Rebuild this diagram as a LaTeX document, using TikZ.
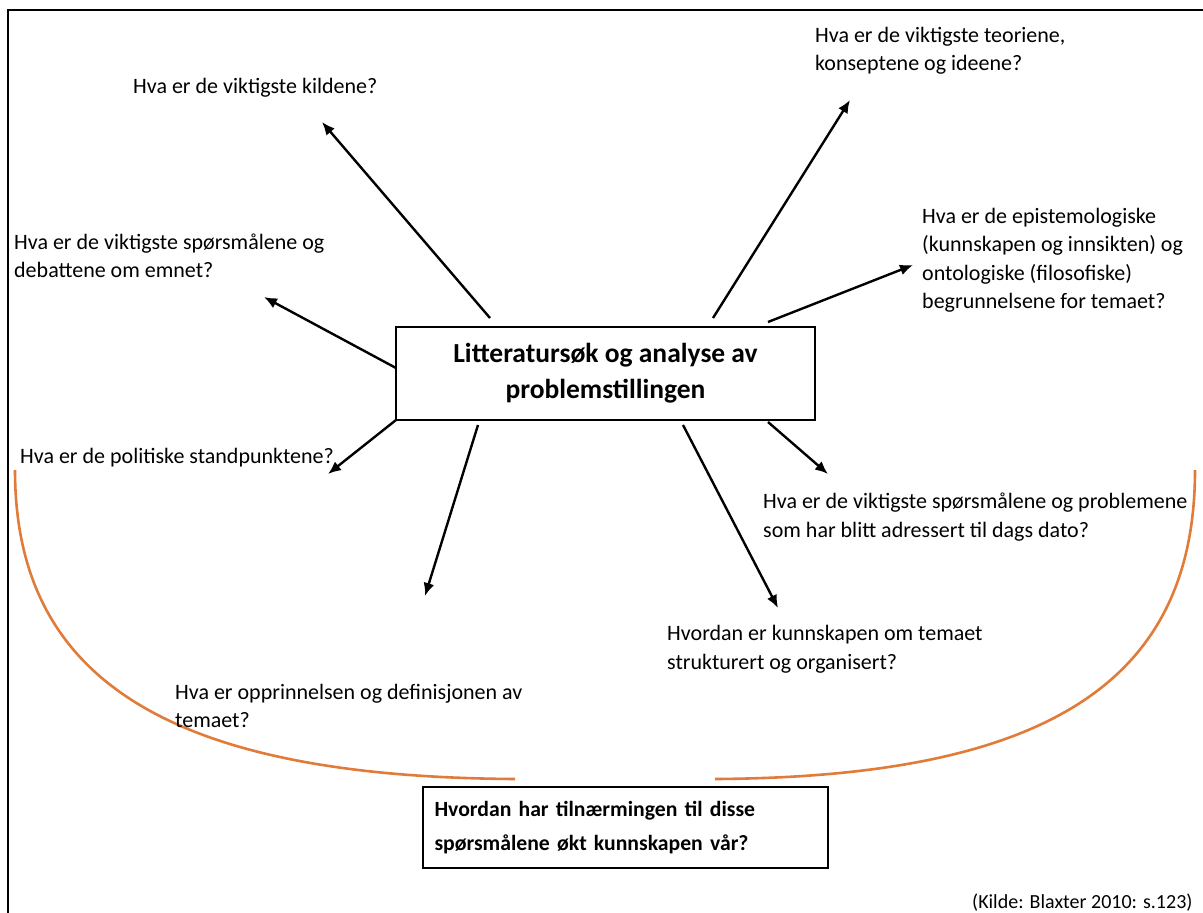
\documentclass[tikz,border=0pt]{standalone}
\usepackage{fontspec}
\setmainfont{Carlito}
\usetikzlibrary{arrows.meta}
\definecolor{arcorange}{HTML}{E07B39}
\begin{document}
\begin{tikzpicture}[x=1pt,y=-1pt,
  qtext/.style={anchor=west,align=left,inner sep=0pt,font=\fontsize{22}{28.5}\selectfont},
  conn/.style={line width=2.4pt,-{Latex[length=13pt,width=11pt]}},
  framebox/.style={draw,line width=1.6pt,fill=white},
  arcline/.style={draw=arcorange,line width=2.6pt}]
\useasboundingbox (0,0) rectangle (1203,913);
% outer frame
\coordinate (fbl) at (8,913);
\coordinate (ftl) at (8,10);
\coordinate (ftr) at (1203,10);
\draw[line width=1.8pt] (fbl) -- (ftl) -- (ftr);
% orange arcs
\coordinate (la) at (15,470);
\coordinate (lb) at (515,779);
\coordinate (ra) at (715,779);
\coordinate (rb) at (1195,470);
\draw[arcline] (la) .. controls (15,680) and (170,777) .. (lb);
\draw[arcline] (ra) .. controls (1050,777) and (1195,680) .. (rb);
% central box
\node[framebox,minimum width=419pt,minimum height=93pt,align=center,
  font=\fontsize{27.5}{36}\selectfont\bfseries] (center) at (605.5,373.5)
  {Litteratursøk og analyse av\\problemstillingen};
% bottom box
\node[framebox,minimum width=405pt,minimum height=81pt,align=left,text width=382pt,
  font=\fontsize{21.7}{34}\selectfont\bfseries] (result) at (625.5,827.5)
  {Hvordan har tilnærmingen til disse\\spørsmålene økt kunnskapen vår?};
% questions
\node[qtext] (q1) at (133,88) {Hva er de viktigste kildene?};
\node[qtext] (q2) at (815,51) {Hva er de viktigste teoriene,\\konseptene og ideene?};
\node[qtext] (q3) at (922,260) {Hva er de epistemologiske\\(kunnskapen og innsikten) og\\ontologiske (filosofiske)\\begrunnelsene for temaet?};
\node[qtext] (q4) at (14,256) {Hva er de viktigste spørsmålene og\\debattene om emnet?};
\node[qtext] (q5) at (20,458) {Hva er de politiske standpunktene?};
\node[qtext] (q6) at (763,517) {Hva er de viktigste spørsmålene og problemene\\som har blitt adressert til dags dato?};
\node[qtext] (q7) at (667,649) {Hvordan er kunnskapen om temaet\\strukturert og organisert?};
\node[qtext] (q8) at (175,706) {Hva er opprinnelsen og definisjonen av\\temaet?};
\node[qtext,font=\fontsize{20}{24}\selectfont] (src) at (972,903) {(Kilde: Blaxter 2010: s.123)};
% arrow start points on the central box
\coordinate (s1) at (490,318);
\coordinate (s2) at (713,318);
\coordinate (s3) at (768,322);
\coordinate (s4) at (396,368);
\coordinate (s5) at (396,420);
\coordinate (s6) at (478,425);
\coordinate (s7) at (683,425);
\coordinate (s8) at (768,422);
% arrow tips
\coordinate (e1) at (322,122);
\coordinate (e2) at (850,100);
\coordinate (e3) at (913,265);
\coordinate (e4) at (264,297);
\coordinate (e5) at (328,474);
\coordinate (e6) at (425,596);
\coordinate (e7) at (778,608);
\coordinate (e8) at (828,474);
\draw[conn] (s1) -- (e1);
\draw[conn] (s2) -- (e2);
\draw[conn] (s3) -- (e3);
\draw[conn] (s4) -- (e4);
\draw[conn] (s5) -- (e5);
\draw[conn] (s6) -- (e6);
\draw[conn] (s7) -- (e7);
\draw[conn] (s8) -- (e8);
\end{tikzpicture}
\end{document}
